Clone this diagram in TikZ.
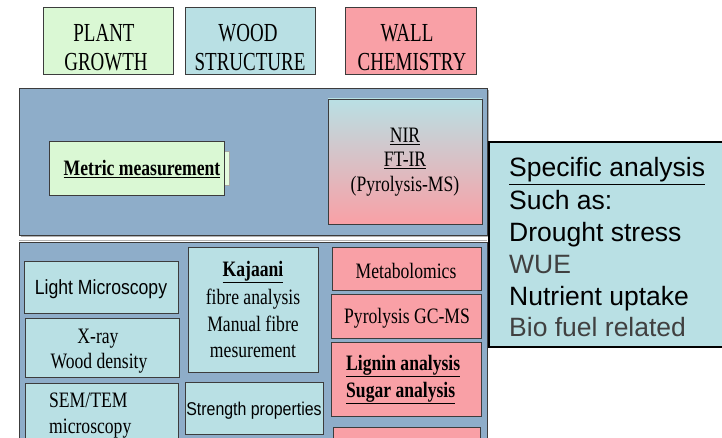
\documentclass[tikz,border=0pt]{standalone}
\usepackage{fontspec}
\setmainfont{Liberation Serif}
\newfontfamily\tms[FakeStretch=0.8]{Liberation Serif}
\newfontfamily\tmstop[FakeStretch=0.73]{Liberation Serif}
\newfontfamily\arl[FakeStretch=0.86]{Liberation Sans}
\newfontfamily\arlw{Liberation Sans}
\definecolor{panel}{HTML}{8EADC9}
\definecolor{tealbox}{HTML}{B9E0E4}
\definecolor{mint}{HTML}{DAF8D4}
\definecolor{mintlt}{HTML}{E4FBDF}
\definecolor{rose}{HTML}{F9A0A6}
\definecolor{edge}{HTML}{3C3C3C}
\definecolor{greytext}{HTML}{404040}
\tikzset{
  box/.style={draw=edge, line width=0.9pt, inner sep=0pt, outer sep=0pt},
  ttop/.style={font=\tmstop\fontsize{26}{30}\selectfont, anchor=base, inner sep=0pt},
  tser/.style={font=\tms\fontsize{22}{26}\selectfont, anchor=base, inner sep=0pt},
  tserl/.style={font=\tms\fontsize{22}{26}\selectfont, anchor=base west, inner sep=0pt},
  tsans/.style={font=\arl\fontsize{20.5}{24}\selectfont, anchor=base, inner sep=0pt},
  tspec/.style={font=\arlw\fontsize{26.5}{30}\selectfont, anchor=base west, inner sep=0pt},
}
\newcommand\bx[6]{\node[box,#2,anchor=north west,minimum width={(#5)-(#3)},minimum height={(#6)-(#4)}] (#1) at (#3,#4) {};}
\begin{document}
\begin{tikzpicture}[x=1pt,y=-1pt]
\useasboundingbox (0,0) rectangle (722,438);
\clip (0,0) rectangle (722,438);
% top category boxes
\bx{plant}{fill=mint}{43}{7}{173}{74}
\bx{wood}{fill=tealbox}{185}{7}{315}{74}
\bx{wall}{fill=rose}{345}{7}{476}{74}
\node[ttop] (plantA) at (104,42) {PLANT};
\node[ttop] (plantB) at (106,71) {GROWTH};
\node[ttop] (woodA) at (248,42) {WOOD};
\node[ttop] (woodB) at (250,71) {STRUCTURE};
\node[ttop] (wallA) at (407,42) {WALL};
\node[ttop] (wallB) at (412,71) {CHEMISTRY};
% upper panel
\draw[gray!60, line width=1pt] (21,236.5) -- (488.5,236.5) -- (488.5,90);
\bx{upper}{fill=panel}{19}{88}{487}{235}
\bx{metrictab}{fill=mintlt, draw=gray!70}{222}{151}{229}{185}
\bx{metric}{fill=mint}{49}{141}{224}{195}
\node[tser] (metrictext) at (142,176) {\bfseries\underline{Metric measurement}};
\bx{nir}{top color=tealbox, bottom color=rose, middle color=rose!50!tealbox}{328}{99}{482}{224}
\node[tser] (nirA) at (405,143) {\underline{NIR}};
\node[tser] (nirB) at (405,167) {\underline{FT-IR}};
\node[tser] (nirC) at (405,192) {(Pyrolysis-MS)};
% lower panel
\draw[gray!60, line width=1pt] (19,240.5) -- (487,240.5);
\bx{lower}{fill=panel}{19}{242}{487}{460}
\bx{light}{fill=tealbox}{24}{261}{178}{313}
\node[tsans] (lightT) at (101,294) {Light Microscopy};
\bx{xray}{fill=tealbox}{25}{318}{179}{377}
\node[tser] (xrayA) at (98,343) {X-ray};
\node[tser] (xrayB) at (99,368) {Wood density};
\bx{sem}{fill=tealbox}{25}{383}{178}{460}
\node[tserl] (semA) at (49,407) {SEM/TEM};
\node[tserl] (semB) at (49,433) {microscopy};
\bx{kaj}{fill=tealbox}{188}{247}{318}{372}
\node[tser] (kajA) at (253,276) {\bfseries\underline{Kajaani}};
\node[tser] (kajB) at (253,304) {fibre analysis};
\node[tser] (kajC) at (253,331) {Manual fibre};
\node[tser] (kajD) at (253,357) {mesurement};
\bx{strength}{fill=tealbox}{185}{382}{323}{434}
\node[tsans, font=\arl\fontsize{18.5}{22}\selectfont] (strengthT) at (254,415) {Strength properties};
\bx{metab}{fill=rose}{332}{247}{481}{290}
\node[tser] (metabT) at (406,278) {Metabolomics};
\bx{pyro}{fill=rose}{331}{294}{481}{338}
\node[tser] (pyroT) at (407,323) {Pyrolysis GC-MS};
\bx{lignin}{fill=rose}{331}{342}{481}{416}
\node[tserl] (ligA) at (346,370) {\bfseries\underline{Lignin analysis}};
\node[tserl] (ligB) at (346,397) {\bfseries\underline{Sugar analysis}};
\bx{pinkbottom}{fill=rose}{333}{427}{480}{460}
% specific analysis box
\node[box, draw=black, line width=1.5pt, fill=tealbox, anchor=north west, minimum width=250, minimum height=205] (spec) at (489,142) {};
\node[tspec] (specA) at (509,177) {\underline{Specific analysis}};
\node[tspec] (specB) at (509,210) {Such as:};
\node[tspec] (specC) at (509,241) {Drought stress};
\node[tspec, text=greytext] (specD) at (509,273) {WUE};
\node[tspec] (specE) at (509,305) {Nutrient uptake};
\node[tspec, text=greytext] (specF) at (509,336) {Bio fuel related};
\end{tikzpicture}
\end{document}
